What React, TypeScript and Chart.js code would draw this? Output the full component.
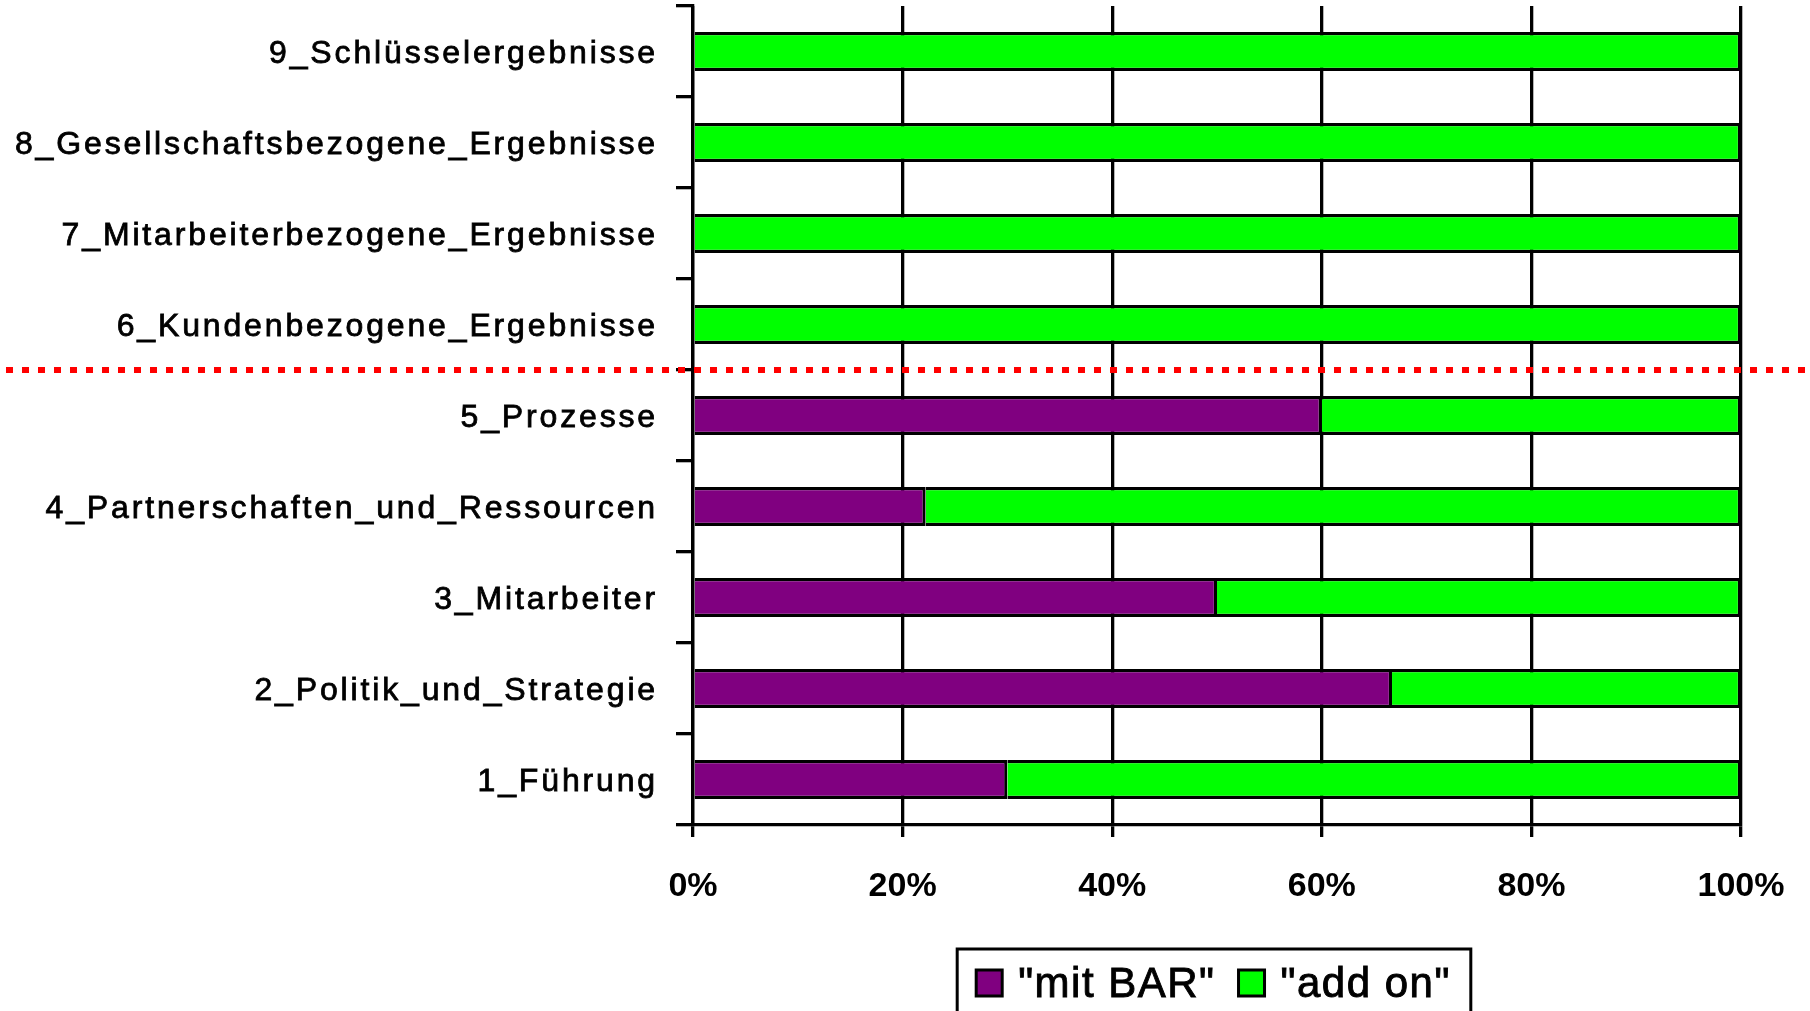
import { useEffect, useRef } from 'react';
import { Chart, registerables } from 'chart.js';

Chart.register(...registerables);

// EFQM criteria, bottom to top
const categories = [
  '1_Führung',
  '2_Politik_und_Strategie',
  '3_Mitarbeiter',
  '4_Partnerschaften_und_Ressourcen',
  '5_Prozesse',
  '6_Kundenbezogene_Ergebnisse',
  '7_Mitarbeiterbezogene_Ergebnisse',
  '8_Gesellschaftsbezogene_Ergebnisse',
  '9_Schlüsselergebnisse',
];

// share of each criterion (percent)
const mitBar = [30, 66.7, 50, 22.2, 60, 0, 0, 0, 0];
const addOn = [70, 33.3, 50, 77.8, 40, 100, 100, 100, 100];

const seriesNames = ['"mit BAR"', '"add on"'];
const seriesColors = ['#800080', '#00FF00'];

const percentMin = 0;
const percentMax = 100;
const percentStep = 20;

// index of the last enabler criterion; results start above it
const lastEnablerIndex = 4;

const CATEGORY_SPACING = '2.85px';
const LEGEND_SPACING = '1.5px';

const spacingPlugin = {
  id: 'labelSpacing',
  beforeLayout(chart: any) {
    chart.ctx.letterSpacing = CATEGORY_SPACING;
  },
  beforeDraw(chart: any) {
    chart.ctx.letterSpacing = CATEGORY_SPACING;
  },
  beforeDatasetsDraw(chart: any) {
    chart.ctx.letterSpacing = '0px';
  },
};

// dotted separator between enablers and results
const separatorPlugin = {
  id: 'separator',
  afterDraw(chart: any) {
    const { ctx, scales, width } = chart;
    const y = scales.y;
    const py = (y.getPixelForValue(lastEnablerIndex) + y.getPixelForValue(lastEnablerIndex + 1)) / 2;
    ctx.save();
    ctx.letterSpacing = '0px';
    ctx.strokeStyle = '#FF0000';
    ctx.lineWidth = 6;
    ctx.setLineDash([7, 9]);
    ctx.lineDashOffset = -6;
    ctx.beginPath();
    ctx.moveTo(0, py);
    ctx.lineTo(width, py);
    ctx.stroke();
    ctx.restore();
  },
};

// boxed legend under the value axis
const boxLegendPlugin = {
  id: 'boxLegend',
  afterDraw(chart: any) {
    const { ctx, chartArea } = chart;
    const swatch = 26;
    const swatchGap = 16;
    const itemGap = 23;
    const padL = 19;
    const padR = 20;
    ctx.save();
    ctx.font = '42px "Liberation Sans", Arial, sans-serif';
    ctx.letterSpacing = LEGEND_SPACING;
    const items = chart.data.datasets.map((ds: any) => ({
      label: ds.label,
      color: ds.backgroundColor,
      w: ctx.measureText(ds.label).width,
    }));
    let total = padL + padR + itemGap * (items.length - 1);
    items.forEach((it: any) => (total += swatch + swatchGap + it.w));
    const left = (chartArea.left + chartArea.right) / 2 - total / 2 - 3;
    const top = chartArea.bottom + 124;
    const midY = top + 34;
    ctx.strokeStyle = '#000';
    ctx.lineWidth = 3;
    ctx.strokeRect(left, top, total, 90);
    let x = left + padL;
    items.forEach((it: any) => {
      ctx.fillStyle = it.color;
      ctx.fillRect(x, midY - swatch / 2, swatch, swatch);
      ctx.lineWidth = 3;
      ctx.strokeRect(x, midY - swatch / 2, swatch, swatch);
      x += swatch + swatchGap;
      ctx.fillStyle = '#000';
      ctx.strokeStyle = '#000';
      ctx.lineWidth = 0.9;
      ctx.textBaseline = 'middle';
      ctx.textAlign = 'left';
      ctx.fillText(it.label, x, midY + 2);
      ctx.strokeText(it.label, x, midY + 2);
      x += it.w + itemGap;
    });
    ctx.restore();
  },
};

export default function App() {
  const canvasRef = useRef<HTMLCanvasElement | null>(null);

  useEffect(() => {
    const canvas = canvasRef.current;
    if (!canvas) return;
    const chart = new Chart(canvas, {
      type: 'bar',
      data: {
        labels: categories,
        datasets: [
          {
            label: seriesNames[0],
            data: mitBar,
            backgroundColor: seriesColors[0],
            borderColor: '#000',
            borderWidth: 3.2,
            borderSkipped: 'start',
            barPercentage: 0.43,
            categoryPercentage: 1,
          },
          {
            label: seriesNames[1],
            data: addOn,
            backgroundColor: seriesColors[1],
            borderColor: '#000',
            borderWidth: 3.2,
            borderSkipped: 'start',
            barPercentage: 0.43,
            categoryPercentage: 1,
          },
        ],
      },
      options: {
        indexAxis: 'y',
        animation: false,
        responsive: false,
        devicePixelRatio: 1,
        layout: { padding: { left: 0, right: 69, top: 6, bottom: 0 } },
        plugins: {
          legend: { display: false },
          tooltip: { enabled: false },
        },
        scales: {
          x: {
            stacked: true,
            min: percentMin,
            max: percentMax,
            grid: {
              color: '#000',
              lineWidth: 3.3,
              tickLength: 12,
              tickColor: '#000',
              tickWidth: 3.3,
            },
            border: { display: true, color: '#000', width: 3.3 },
            ticks: {
              stepSize: percentStep,
              color: '#000',
              padding: 29,
              z: 1,
              font: { family: '"Liberation Sans", Arial, sans-serif', size: 34, weight: 'bold' },
              callback: (v: any) => `${v}%`,
            },
            afterFit: (scale: any) => {
              scale.height = 186;
              scale.paddingLeft = 0;
              scale.paddingRight = 0;
            },
          },
          y: {
            stacked: true,
            reverse: true,
            grid: {
              drawOnChartArea: false,
              drawTicks: true,
              offset: true,
              tickLength: 17,
              color: '#000',
              lineWidth: 3.3,
            },
            border: { display: true, color: '#000', width: 3.3, z: 1 },
            ticks: {
              color: '#000',
              padding: 18,
              labelOffset: 3,
              textStrokeColor: '#000',
              textStrokeWidth: 0.8,
              font: { family: '"Liberation Sans", Arial, sans-serif', size: 32 },
            },
            afterFit: (scale: any) => {
              scale.width = 693;
              scale.paddingTop = 0;
              scale.paddingBottom = 0;
            },
          },
        },
      },
      plugins: [spacingPlugin, separatorPlugin, boxLegendPlugin],
    } as any);
    return () => chart.destroy();
  }, []);

  return (
    <div style={{ position: 'absolute', left: 0, top: 0, width: 1810, height: 1011, background: '#fff' }}>
      <canvas ref={canvasRef} width={1810} height={1011} style={{ width: 1810, height: 1011, display: 'block' }} />
    </div>
  );
}
